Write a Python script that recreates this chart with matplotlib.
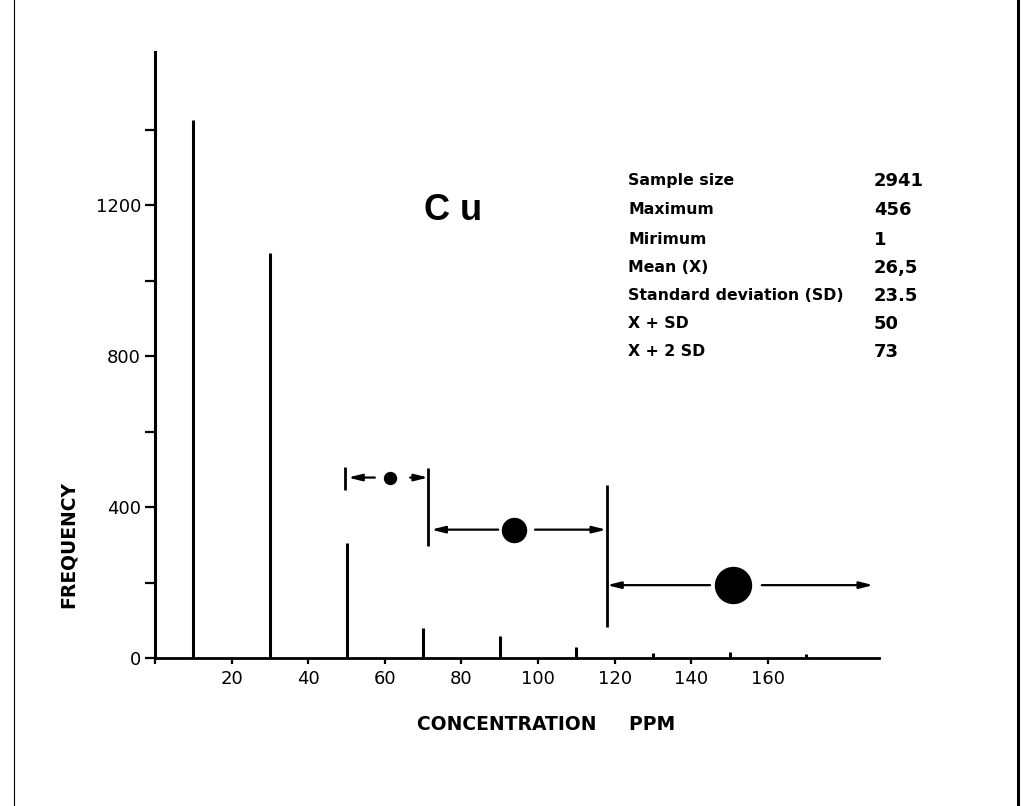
import matplotlib
matplotlib.use("Agg")
import matplotlib.pyplot as plt
from matplotlib.lines import Line2D

# ---- data ----
conc = [10, 30, 50, 70, 90, 110, 130, 150, 170]
freq = [1425, 1072, 305, 80, 58, 28, 12, 16, 10]
axis_top = 1605

xticks = [0, 20, 40, 60, 80, 100, 120, 140, 160]
xticklabels = ["", "20", "40", "60", "80", "100", "120", "140", "160"]
yticks_major = [0, 400, 800, 1200]
yticks_minor = [200, 600, 1000, 1400]

stat_names = ["Sample size", "Maximum", "Mirimum", "Mean (X)",
              "Standard deviation (SD)", "X + SD", "X + 2 SD"]
stat_values = ["2941", "456", "1", "26,5", "23.5", "50", "73"]

# class intervals shown by arrows and dots
bound_x = [49.6, 71.3, 118.0]
bound_lo = [444, 298, 82]
bound_hi = [507, 504, 457]
row_y = [478, 340, 193]
left_from = [57.4, 89.6, 144.9]
left_to = [50.4, 72.1, 118.0]
dot_x = [61.4, 93.7, 151.0]
dot_size = [8.6, 17.3, 25.9]
right_from = [66.6, 99.2, 158.4]
right_to = [71.3, 117.8, 187.5]

W, H = 1031, 806
fig = plt.figure(figsize=(W / 100, H / 100), dpi=100)
x0px, x1px = 155, 879
y0px = 658
ppu_y = 0.3775
ymax = 1650
ax = fig.add_axes([x0px / W, (H - y0px) / H, (x1px - x0px) / W, ymax * ppu_y / H])
ax.set_xlim(0, 189)
ax.set_ylim(0, ymax)

ax.vlines(conc, 0, freq, colors="black", linewidth=2.2)

for s in ["top", "right"]:
    ax.spines[s].set_visible(False)
ax.spines["left"].set_bounds(0, axis_top)
ax.spines["left"].set_linewidth(2.2)
ax.spines["bottom"].set_linewidth(2.0)

ax.set_xticks(xticks)
ax.set_xticklabels(xticklabels)
ax.set_yticks(yticks_major)
ax.set_yticks(yticks_minor, minor=True)
ax.tick_params(axis="y", which="both", direction="out", length=7, width=1.6,
               labelsize=13, pad=3)
ax.tick_params(axis="x", which="both", direction="out", length=4, width=1.6,
               labelsize=13, pad=5)
for lab in ax.get_xticklabels() + ax.get_yticklabels():
    lab.set_family("DejaVu Sans")

# interval markers
for i in range(3):
    ax.vlines(bound_x[i], bound_lo[i], bound_hi[i], colors="black", linewidth=2.0)
    ax.annotate("", xy=(left_to[i], row_y[i]), xytext=(left_from[i], row_y[i]),
                arrowprops=dict(arrowstyle="-|>,head_width=0.2,head_length=0.8",
                                color="black", lw=1.6, shrinkA=0, shrinkB=0))
    ax.annotate("", xy=(right_to[i], row_y[i]), xytext=(right_from[i], row_y[i]),
                arrowprops=dict(arrowstyle="-|>,head_width=0.2,head_length=0.8",
                                color="black", lw=1.6, shrinkA=0, shrinkB=0))
    ax.plot([dot_x[i]], [row_y[i]], "o", color="black", markersize=dot_size[i])

# texts
fig.text(453 / W, 1 - 211 / H, "C u", fontsize=26, fontweight="bold",
         family="Liberation Sans", ha="center", va="center")
row_px = [181, 210, 240, 268, 296, 324, 352]
for name, val, ypx in zip(stat_names, stat_values, row_px):
    fig.text(628 / W, 1 - ypx / H, name, fontsize=11.3, fontweight="bold",
             family="DejaVu Sans", ha="left", va="center")
    fig.text(874 / W, 1 - ypx / H, val, fontsize=13, fontweight="bold",
             family="DejaVu Sans", ha="left", va="center")

fig.text(68 / W, 1 - 545 / H, "FREQUENCY", rotation=90, fontsize=13.5,
         fontweight="bold", family="DejaVu Sans", ha="center", va="center")
fig.text(546 / W, 1 - 724 / H, "CONCENTRATION     PPM", fontsize=13.5,
         fontweight="bold", family="DejaVu Sans", ha="center", va="center")

# page border lines
fig.add_artist(Line2D([14 / W, 14 / W], [0, 1], color="black", lw=0.8,
                      transform=fig.transFigure))
fig.add_artist(Line2D([1018 / W, 1018 / W], [0, 1], color="black", lw=2.2,
                      transform=fig.transFigure))

fig.savefig("out.png", dpi=100)
